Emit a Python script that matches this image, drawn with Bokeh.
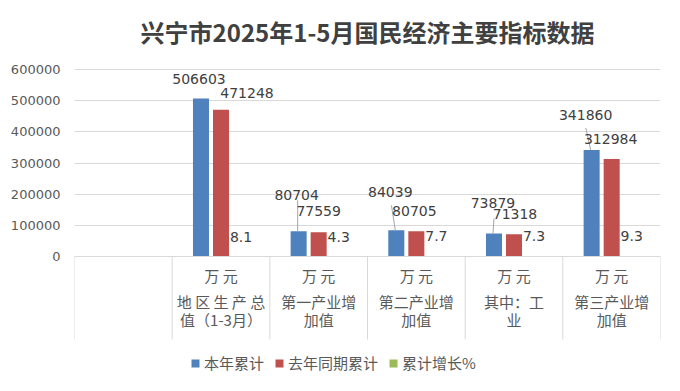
from bokeh.plotting import figure
from bokeh.models import (Range1d, LinearAxis, FixedTicker, NumeralTickFormatter,
                          ColumnDataSource, Legend, LegendItem, Grid, Span)
from bokeh.core.properties import value
from bokeh.embed import file_html
from bokeh.resources import INLINE

# ---------------- data ----------------
title_text = "兴宁市2025年1-5月国民经济主要指标数据"
unit_label = "万 元"
categories = ["地 区 生 产 总\n值（1-3月）", "第一产业增\n加值", "第二产业增\n加值",
              "其中：工\n业", "第三产业增\n加值"]
series_names = ["本年累计", "去年同期累计", "累计增长%"]
this_year = [506603, 80704, 84039, 73879, 341860]
last_year = [471248, 77559, 80705, 71318, 312984]
growth = [8.1, 4.3, 7.7, 7.3, 9.3]
y_ticks = [0, 100000, 200000, 300000, 400000, 500000, 600000]

# label placement (screen px offsets, manual placement as in the source chart)
blue_dx = [-2, -2, -6, -1, -6]
blue_dy = [-20, -36, -38, -30, -35]
red_dx = [26, 0, -2, 1, -1]
red_dy = [-17, -21, -20, -20, -20]
green_dy = [-19, -19, -20, -20, -20]
# leader lines (blue labels): x shift at label end, length in px
lead_show = [False, True, True, True, True]
lead_dx_end = [0, -0.01, -0.05, 0, -0.06]
lead_px = [0, 31, 25, 15, 22]

colors = ["#4F81BD", "#C0504D", "#9BBB59"]
grid_col = "#d9d9d9"
txt_col = "#595959"
lbl_col = "#404040"

W, H = 680, 391
FRAME_TOP = 53          # frame top edge (title sits just above)
TOP_PAD = 16            # pixels between frame top and the 600000 gridline
PLOT_H = 187            # pixels between 0 and 600000
y_max = y_ticks[-1]
upp = y_max / PLOT_H    # data units per pixel
y_top = y_max + TOP_PAD * upp
frame_h = H - FRAME_TOP
y_bottom = y_top - frame_h * upp   # frame extends below zero to hold the category table
n_slots = len(categories) + 1      # first slot is empty
bar_w = 0.164
off = 0.205
DIV_LEN = 83

p = figure(width=W, height=H, output_backend="svg", toolbar_location=None,
           x_range=Range1d(0, n_slots), y_range=Range1d(y_bottom, y_top),
           x_axis_type=None, y_axis_type=None,
           min_border_left=74, min_border_right=20, min_border_top=FRAME_TOP,
           min_border_bottom=0)
p.outline_line_color = None
p.background_fill_color = "white"
p.border_fill_color = "white"

p.title.text = title_text
p.title.align = "center"
p.title.offset = -27
p.title.text_font = "Noto Sans CJK SC"
p.title.text_font_style = "bold"
p.title.text_font_size = "24px"
p.title.text_color = lbl_col

# y axis + grid
yax = LinearAxis(ticker=FixedTicker(ticks=y_ticks), formatter=NumeralTickFormatter(format="0"),
                 axis_line_color=None, major_tick_line_color=None, minor_tick_line_color=None,
                 major_label_text_font="DejaVu Sans", major_label_text_font_size="13px",
                 major_label_text_color=txt_col, major_label_standoff=8)
p.add_layout(yax, "left")
p.add_layout(Grid(dimension=1, ticker=yax.ticker, grid_line_color=grid_col))

# category table below the zero line
p.add_layout(Span(location=0, dimension="width", line_color=grid_col, line_width=1))
bounds = list(range(n_slots + 1))
p.segment(x0=bounds, y0=[0] * len(bounds), x1=bounds, y1=[-DIV_LEN * upp] * len(bounds),
          line_color=grid_col, line_width=1)

xc = [i + 1.5 for i in range(len(categories))]
tsrc = ColumnDataSource(dict(x=xc, y=[0] * len(xc), u=[unit_label] * len(xc), n=categories))
p.text(x="x", y="y", text="u", source=tsrc, y_offset=19, text_font=value("Noto Sans CJK SC"),
       text_font_size="15px", text_color=txt_col, text_align="center", text_baseline="middle")
p.text(x="x", y="y", text="n", source=tsrc, y_offset=54, text_font=value("Noto Sans CJK SC"),
       text_font_size="15px", text_color=txt_col, text_align="center", text_baseline="middle",
       text_line_height=0.9)

# bars
src = ColumnDataSource(dict(
    xb=[x - off for x in xc], xr=list(xc), xg=[x + off for x in xc],
    a=this_year, b=last_year, g=growth,
    ta=[str(v) for v in this_year], tb=[str(v) for v in last_year], tg=[str(v) for v in growth],
    bdx=blue_dx, bdy=blue_dy, rdx=red_dx, rdy=red_dy, gdy=green_dy,
))
rb = p.vbar(x="xb", top="a", bottom=0, width=bar_w, source=src, fill_color=colors[0], line_color=None)
rr = p.vbar(x="xr", top="b", bottom=0, width=bar_w, source=src, fill_color=colors[1], line_color=None)
rg = p.vbar(x="xg", top="g", bottom=0, width=bar_w, source=src, fill_color=colors[2], line_color=None)

# leader lines
lx0, lx1, ly0, ly1 = [], [], [], []
for i in range(len(categories)):
    if lead_show[i]:
        bx = xc[i] - off
        lx0.append(bx - 0.01)
        lx1.append(bx + lead_dx_end[i])
        ly0.append(this_year[i])
        ly1.append(this_year[i] + lead_px[i] * upp)
p.segment(x0=lx0, y0=ly0, x1=lx1, y1=ly1, line_color="#a6a6a6", line_width=1)

common = dict(source=src, text_font=value("DejaVu Sans"), text_font_size="14px",
              text_color=lbl_col, text_align="center", text_baseline="middle")
p.text(x="xb", y="a", text="ta", x_offset="bdx", y_offset="bdy", **common)
p.text(x="xr", y="b", text="tb", x_offset="rdx", y_offset="rdy", **common)
p.text(x="xg", y="g", text="tg", y_offset="gdy", **common)

# legend
legend = Legend(items=[LegendItem(label=series_names[0], renderers=[rb]),
                       LegendItem(label=series_names[1], renderers=[rr]),
                       LegendItem(label=series_names[2], renderers=[rg])],
                orientation="horizontal", location=(116, 18),
                glyph_width=10, glyph_height=10, label_height=20, label_standoff=4,
                spacing=10, padding=0, margin=0,
                label_text_font="Noto Sans CJK SC", label_text_font_size="15px",
                label_text_color=txt_col, border_line_alpha=0, background_fill_alpha=0)
p.add_layout(legend)

open("out.html", "w").write(file_html(p, INLINE))
